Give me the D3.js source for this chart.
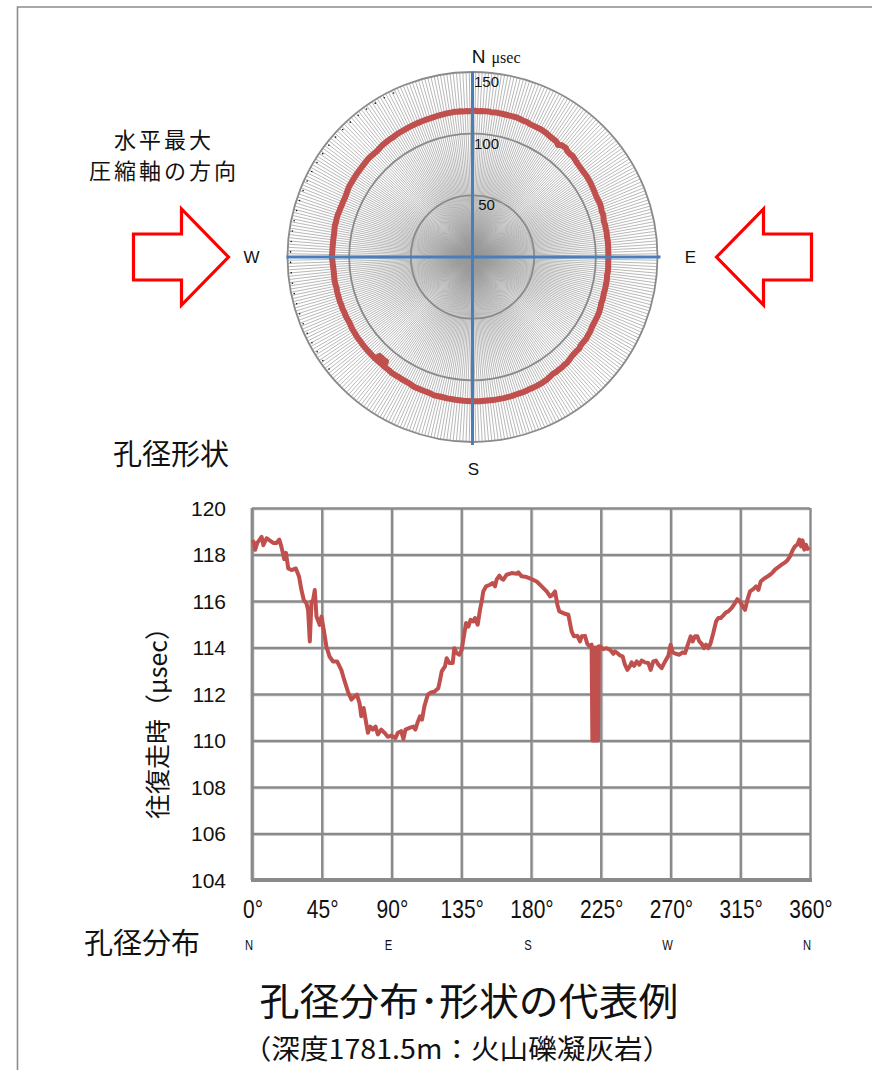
<!DOCTYPE html>
<html lang="ja">
<head>
<meta charset="utf-8">
<script src="https://cdn.jsdelivr.net/npm/d3@7/dist/d3.min.js"></script>
<style>
  html, body { margin: 0; padding: 0; background: #fff; overflow: hidden; }
  svg { display: block; }
</style>
</head>
<body>
<svg id="fig" width="872" height="1070"></svg>
<script>
// Borehole caliper: two-way travel time (μsec) versus azimuth (degrees clockwise from N)
const azimuthDeg = [
  0, 1, 2, 3.4, 6.2, 7.3, 9.4, 11.6, 13.7, 15.9, 17.6, 19, 20.8, 21.9, 23.4, 25.5, 28.3, 30.4,
  31.9, 33.4, 35.1, 36.2, 37.3, 38.4, 39.4, 40.5, 41.6, 43.7, 44.8, 46.3, 48, 50.1, 52.3, 54.9,
  57.6, 59.8, 61.9, 64.1, 66.2, 67.7, 69.4, 70.5, 72, 73.3, 74.8, 76.3, 78, 79.7, 81.2, 83.4,
  85.5, 87.6, 89.8, 92.6, 94.1, 96.2, 97.7, 99, 101.6, 104.1, 105.4, 106.9, 108.4, 109.7, 111.2,
  113.4, 115.5, 117.6, 120.2, 121.3, 122.4, 124.5, 125.6, 127.3, 129.5, 130.5, 132, 133.8, 135.3,
  136.3, 138.1, 139.6, 141, 142.8, 143.9, 145.6, 147.1, 148.2, 149.2, 151, 153.5, 155.3, 156.8,
  157.8, 159.6, 161.1, 162.2, 164.3, 167.5, 170.8, 171.8, 174, 177.2, 180.4, 183.7, 186.9, 190.1,
  192.3, 193.3, 195.5, 197, 198.3, 199.8, 201.9, 204.1, 206.2, 207.7, 209.9, 211.6, 212.7, 214.8,
  216.3, 217.6, 219.1, 219.6, 220.2, 220.8, 221.4, 222.0, 222.6, 223.2, 223.8, 224.5, 226.7, 228.8,
  231, 233.1, 234.2, 235.7, 237.4, 239.1, 240.6, 242.2, 243.9, 244.9, 246.5, 248.2, 249.9, 251.4,
  253.5, 255.7, 257.2, 258.9, 260.6, 262.2, 264.3, 266.5, 268.6, 270.1, 271.4, 273.5, 275.7, 277.8,
  279.4, 281.5, 283, 284.3, 285.8, 287.3, 288.6, 290.1, 291.6, 292.9, 294.4, 295.9, 297.6, 299.4,
  300.9, 302.4, 303.9, 305.8, 307.3, 309.5, 311.6, 313.1, 314.8, 316.6, 318.1, 319.6, 321.3, 323.4,
  325.2, 326.7, 328.2, 329.9, 332, 334.2, 335.9, 337.4, 339.6, 341.7, 343.9, 345.4, 347.1, 348.8,
  350.3, 351.8, 353.1, 354.2, 355.2, 356.3, 357.4, 358.5, 359.6
];
const travelTime = [
  118.5, 118.55, 118.2, 118.5, 118.76, 118.4, 118.7, 118.6, 118.5, 118.5, 118.64, 118.33, 117.8, 118.07, 117.4, 117.33, 117.4, 117.04,
  116.47, 116.04, 115.9, 115.6, 114.26, 115.97, 116.04, 116.47, 115.33, 114.97, 115.33, 114.76, 114.04, 113.6, 113.4, 113.4,
  113.04, 112.54, 112.1, 111.76, 111.9, 111.97, 111.6, 111.04, 111.4, 110.9, 110.33, 110.6, 110.47, 110.6, 110.26, 110.47,
  110.33, 110.16, 110.21, 110.11, 110.33, 110.4, 110.07, 110.47, 110.54, 110.6, 110.47, 110.79, 111.04, 110.9, 111.47,
  111.97, 112.07, 112.1, 112.25, 112.6, 112.97, 113.19, 113.54, 113.33, 113.33, 113.97, 113.76, 113.69, 113.9,
  114.33, 115.05, 114.9, 115.19, 115.12, 115.27, 114.98, 115.62, 115.98, 116.41, 116.63, 116.7, 116.77, 116.63,
  116.92, 117.09, 116.95, 116.92, 117.13, 117.2, 117.17, 117.23, 117.06, 117.03, 116.94, 116.84, 116.63, 116.41,
  116.2, 116.23, 116.41, 115.84, 115.55, 115.51, 115.45, 115.41, 114.69, 114.48, 114.5, 114.26, 114.48, 114.5,
  114.16, 114.07, 114.12, 110.0, 114.0, 110.0, 114.0, 110.0, 114.0, 110.0, 114.05, 114.05, 113.93, 113.97,
  113.9, 113.73, 113.83, 113.76, 113.66, 113.62, 113.26, 113.04, 113.21, 113.36, 113.21, 113.4, 113.26, 113.44,
  113.36, 113.33, 113.04, 113.4, 113.44, 113.26, 113.11, 113.4, 113.64, 114.12, 113.79, 113.73, 113.69, 113.79,
  113.76, 114.19, 114.48, 114.26, 114.48, 114.48, 114.26, 114.16, 113.97, 114.12, 113.97, 114.19, 114.62, 115.12,
  115.27, 115.27, 115.37, 115.51, 115.55, 115.7, 115.91, 116.08, 115.98, 115.77, 115.62, 116.05, 116.41, 116.51,
  116.63, 116.48, 116.84, 116.94, 117.03, 117.13, 117.23, 117.35, 117.46, 117.56, 117.66, 117.75, 117.92, 118.18,
  118.35, 118.42, 118.64, 118.35, 118.61, 118.21, 118.42, 118.24, 118.32
];

// Axis ticks and labels
const timeTicks = [104, 106, 108, 110, 112, 114, 116, 118, 120];
const azimuthTicks = [0, 45, 90, 135, 180, 225, 270, 315, 360];
const compassDeg = [0, 90, 180, 270, 360];
const compassLetters = ["N", "E", "S", "W", "N"];
const ringValues = [50, 100, 150];
const polarCardinals = [
  { name: "N", deg: 0 }, { name: "E", deg: 90 }, { name: "S", deg: 180 }, { name: "W", deg: 270 }
];

const data = azimuthDeg.map((a, i) => ({ az: a, t: travelTime[i] }));

const RED = "#c0504d";
const BLUE = "#4a7ebb";
const GRID = "#8a8a8a";
const LATIN = "'Liberation Sans', Arial, sans-serif";
const CJK = "'Noto Sans CJK JP', 'Noto Sans', sans-serif";

const svg = d3.select("#fig");

// Frame edges (top and left)
svg.append("path")
  .attr("d", "M17.5,1070 V7 H872")
  .attr("fill", "none").attr("stroke", "#8c8c8c").attr("stroke-width", 1.6);

// ---------------- Polar plot ----------------
const cx = 472.5, cy = 257;
const r = d3.scaleLinear().domain([0, 150]).range([0, 185]);
const R = r(150);
const polar = svg.append("g").attr("transform", `translate(${cx},${cy})`);

// 1-degree spokes
polar.append("g").selectAll("line")
  .data(d3.range(0, 360, 1))
  .join("line")
  .attr("x1", 0).attr("y1", 0)
  .attr("x2", d => R * Math.sin(d * Math.PI / 180))
  .attr("y2", d => -R * Math.cos(d * Math.PI / 180))
  .attr("stroke", "#999")
  .attr("stroke-width", 0.7);

// Rings
polar.append("g").selectAll("circle")
  .data(ringValues)
  .join("circle")
  .attr("r", d => r(d))
  .attr("fill", "none")
  .attr("stroke", GRID)
  .attr("stroke-width", 1.8);

// Small marks along the left rim
polar.append("g").selectAll("circle")
  .data(d3.range(232, 336, 3.3))
  .join("circle")
  .attr("cx", d => (R - 3) * Math.sin(d * Math.PI / 180))
  .attr("cy", d => -(R - 3) * Math.cos(d * Math.PI / 180))
  .attr("r", 0.8)
  .attr("fill", "#111");

// Travel-time trace
const radial = d3.lineRadial()
  .angle(d => d.az * Math.PI / 180)
  .radius(d => r(d.t))
  .curve(d3.curveLinearClosed);
polar.append("path")
  .datum(data)
  .attr("d", radial)
  .attr("fill", "none")
  .attr("stroke", RED)
  .attr("stroke-width", 6)
  .attr("stroke-linejoin", "round");

// Cross axes
polar.append("line").attr("x1", 0).attr("x2", 0).attr("y1", -R).attr("y2", R + 3)
  .attr("stroke", BLUE).attr("stroke-width", 3);
polar.append("line").attr("y1", 0).attr("y2", 0).attr("x1", -R - 1).attr("x2", R + 3)
  .attr("stroke", BLUE).attr("stroke-width", 3);

// Ring labels
polar.append("g").selectAll("text")
  .data(ringValues)
  .join("text")
  .attr("x", 14)
  .attr("y", d => -r(d) + 15)
  .attr("text-anchor", "middle")
  .attr("font-family", LATIN)
  .attr("font-size", 15)
  .attr("fill", "#111")
  .text(d => d);

// Cardinal letters
const cardOffset = { N: [6, -R - 9], E: [218, 6], S: [1, R + 33], W: [-221, 6] };
polar.append("g").selectAll("text")
  .data(polarCardinals)
  .join("text")
  .attr("x", d => cardOffset[d.name][0])
  .attr("y", d => cardOffset[d.name][1])
  .attr("text-anchor", "middle")
  .attr("font-family", LATIN)
  .attr("font-size", d => d.name === "N" ? 19 : 17)
  .attr("fill", "#111")
  .text(d => d.name);
polar.append("text")
  .attr("x", 19).attr("y", -R - 9)
  .attr("font-family", "'Liberation Serif', 'DejaVu Serif', serif")
  .attr("font-size", 16)
  .attr("fill", "#111")
  .text("μsec");

// Compression arrows, pointing toward the borehole
function arrow(side) {
  const s = side;              // -1 = from west, +1 = from east
  const tip = 244, head = 47, halfHead = 48, tail = 48, halfTail = 23;
  const pts = [
    [s * tip, 0],
    [s * (tip + head), -halfHead],
    [s * (tip + head), -halfTail],
    [s * (tip + head + tail), -halfTail],
    [s * (tip + head + tail), halfTail],
    [s * (tip + head), halfTail],
    [s * (tip + head), halfHead]
  ];
  polar.append("polygon")
    .attr("points", pts.map(p => p.join(",")).join(" "))
    .attr("fill", "#fff")
    .attr("stroke", "#ff0000")
    .attr("stroke-width", 3.2);
}
arrow(-1);
arrow(1);

// Captions
const caption = svg.append("g")
  .attr("font-family", CJK).attr("fill", "#111").attr("text-anchor", "middle");
caption.append("text").attr("x", 164).attr("y", 148)
  .attr("font-size", 22).attr("letter-spacing", 3).text("水平最大");
caption.append("text").attr("x", 164).attr("y", 179)
  .attr("font-size", 22).attr("letter-spacing", 3).text("圧縮軸の方向");
caption.append("text").attr("x", 171).attr("y", 465)
  .attr("font-size", 29).text("孔径形状");

// ---------------- Line chart ----------------
const x = d3.scaleLinear().domain([0, 360]).range([252, 810]);
const y = d3.scaleLinear().domain([104, 120]).range([880, 508]);

const grid = svg.append("g");
// light shadow lines beside the grid
grid.append("g").selectAll("line")
  .data(timeTicks.slice(1))
  .join("line")
  .attr("x1", x(0)).attr("x2", x(360))
  .attr("y1", d => y(d) + 2).attr("y2", d => y(d) + 2)
  .attr("stroke", "#d8d8d8").attr("stroke-width", 1);
grid.append("g").selectAll("line")
  .data(azimuthTicks.slice(0, -1))
  .join("line")
  .attr("y1", y(120)).attr("y2", y(104))
  .attr("x1", d => x(d) + 2).attr("x2", d => x(d) + 2)
  .attr("stroke", "#d8d8d8").attr("stroke-width", 1);

const gy = grid.append("g")
  .attr("transform", `translate(${x(0)},0)`)
  .call(d3.axisLeft(y).tickValues(timeTicks).tickSize(-(x(360) - x(0))).tickFormat(""));
gy.select(".domain").remove();
gy.selectAll(".tick line").attr("stroke", GRID).attr("stroke-width", 2.4);

const gx = grid.append("g")
  .attr("transform", `translate(0,${y(104)})`)
  .call(d3.axisBottom(x).tickValues(azimuthTicks).tickSize(-(y(104) - y(120))).tickFormat(""));
gx.select(".domain").remove();
gx.selectAll(".tick line").attr("stroke", GRID).attr("stroke-width", 2.4);

// axis lines
svg.append("line").attr("x1", x(0) - 1).attr("x2", x(360) + 2).attr("y1", y(104)).attr("y2", y(104))
  .attr("stroke", GRID).attr("stroke-width", 4);
svg.append("line").attr("x1", x(0)).attr("x2", x(0)).attr("y1", y(120)).attr("y2", y(104))
  .attr("stroke", GRID).attr("stroke-width", 2.8);

// y tick labels
svg.append("g").selectAll("text")
  .data(timeTicks)
  .join("text")
  .attr("x", 226)
  .attr("y", d => y(d) + 7.5)
  .attr("text-anchor", "end")
  .attr("font-family", LATIN)
  .attr("font-size", 21)
  .attr("fill", "#111")
  .text(d => d);

// x tick labels (narrow face)
svg.append("g").selectAll("g")
  .data(azimuthTicks)
  .join("g")
  .attr("transform", d => `translate(${x(d) + 1},918) scale(0.84,1)`)
  .append("text")
  .attr("text-anchor", "middle")
  .attr("font-family", LATIN)
  .attr("font-size", 25)
  .attr("fill", "#111")
  .text(d => d + "°");

// compass letters under the azimuth axis
svg.append("g").selectAll("g")
  .data(compassDeg)
  .join("g")
  .attr("transform", d => `translate(${x(d) - 3},950) scale(0.8,1)`)
  .append("text")
  .attr("text-anchor", "middle")
  .attr("font-family", LATIN)
  .attr("font-size", 14)
  .attr("fill", "#111")
  .text((d, i) => compassLetters[i]);

// y-axis title
svg.append("text")
  .attr("transform", "translate(167,717) rotate(-90)")
  .attr("text-anchor", "middle")
  .attr("font-family", CJK)
  .attr("font-size", 25)
  .attr("fill", "#111")
  .text("往復走時（μsec）");

// Travel-time curve
const line = d3.line().x(d => x(d.az)).y(d => y(d.t));
svg.append("path")
  .datum(data)
  .attr("d", line)
  .attr("fill", "none")
  .attr("stroke", RED)
  .attr("stroke-width", 4)
  .attr("stroke-linejoin", "round");

// Bottom captions
caption.append("text").attr("x", 142).attr("y", 954)
  .attr("font-size", 29).text("孔径分布");
caption.append("g").attr("transform", "translate(469,1015) scale(1.05,1)")
  .append("text").attr("font-size", 38).text("孔径分布･形状の代表例");
caption.append("g").attr("transform", "translate(457,1059) scale(1.06,1)")
  .append("text").attr("font-size", 27).text("（深度1781.5m：火山礫凝灰岩）");
</script>
</body>
</html>
